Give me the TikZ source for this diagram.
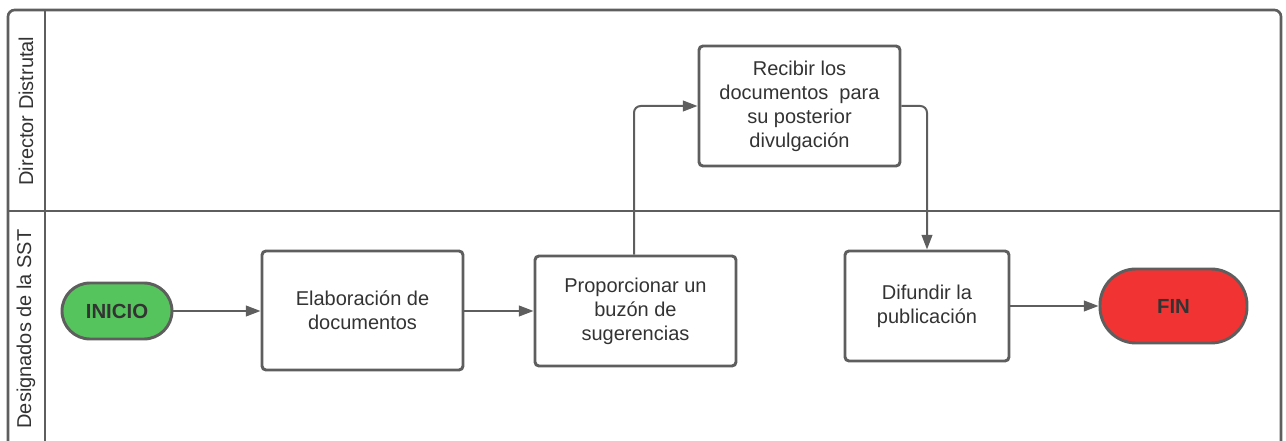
\documentclass[tikz,border=0pt]{standalone}
\usepackage{fontspec}
\setmainfont{Liberation Sans}
\usetikzlibrary{arrows.meta}
\definecolor{linegray}{HTML}{5E5E5E}
\definecolor{txt}{HTML}{333333}
\definecolor{startgreen}{HTML}{56C45C}
\definecolor{endred}{HTML}{F23333}
\begin{document}
\begin{tikzpicture}[x=0.75pt,y=-0.75pt,
  frame/.style={draw=linegray,line width=2pt},
  proc/.style={draw=linegray,line width=2.2pt,rounded corners=3pt,fill=white,
    text=txt,align=center,font=\fontsize{15}{18}\selectfont,inner sep=2pt},
  term/.style={draw=linegray,line width=2.2pt,
    text=txt,font=\bfseries\fontsize{15.3}{18}\selectfont},
  conn/.style={draw=linegray,line width=1.5pt,rounded corners=5pt,
    -{Triangle[length=11pt,width=8pt]}},
  lane/.style={rotate=90,text=txt,font=\fontsize{15}{18}\selectfont}]
\useasboundingbox (0,0) rectangle (1286,441);
% frame
\draw[frame,rounded corners=5pt] (8,445) -- (8,10) -- (1281,10) -- (1281,445);
\draw[frame] (45,10) -- (45,445);
\draw[frame] (8,211) -- (1281,211);
\node[lane] (l1) at (26,111) {Director Distrutal};
\node[lane] (l2) at (26,329) {Designados de la SST};
% nodes
\node[term,fill=startgreen,minimum width=82.5pt,minimum height=42pt,rounded corners=21pt] (inicio) at (117,311) {INICIO};
\node[proc,minimum width=150.75pt,minimum height=89.25pt] (elab) at (362.5,310.5) {Elaboración de\\documentos};
\node[proc,minimum width=150.75pt,minimum height=82.5pt] (prop) at (635.5,311) {Proporcionar un\\buzón de\\sugerencias};
\node[proc,minimum width=150.75pt,minimum height=90pt] (recib) at (799.5,106) {Recibir los\\documentos\ \ para\\su posterior\\divulgación};
\node[proc,minimum width=123pt,minimum height=82.5pt] (difu) at (927,306) {Difundir la\\publicación};
\node[term,fill=endred,minimum width=110.25pt,minimum height=55.5pt,rounded corners=27pt] (fin) at (1173.5,306) {FIN};
% connectors
\draw[conn] (inicio) -- (elab.west |- inicio);
\draw[conn] (elab.east |- inicio) -- (prop.west |- inicio);
\draw[conn] (prop.north -| 634,0) -- (634,106) -- (recib.west);
\draw[conn] (recib.east) -- (927,106) -- (difu.north);
\draw[conn] (difu.east) -- (fin.west);
\end{tikzpicture}
\end{document}
